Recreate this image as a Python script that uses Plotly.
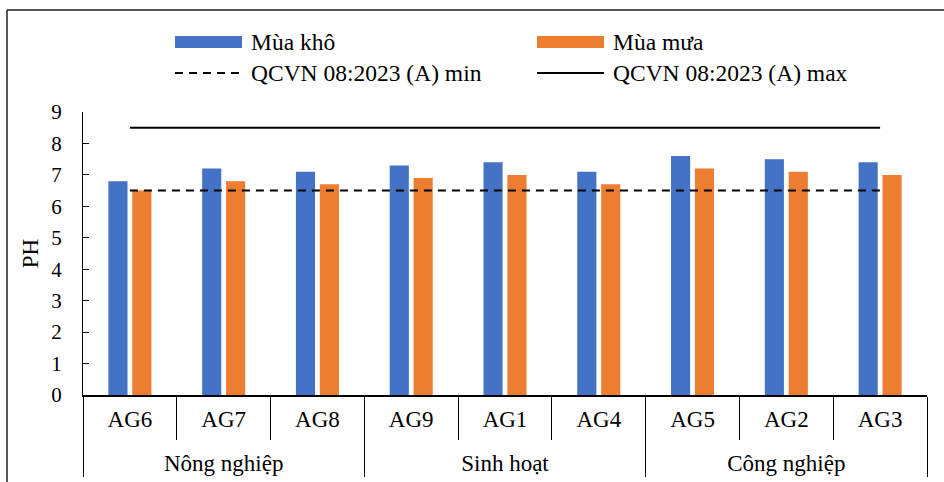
import plotly.graph_objects as go

groups = ["Nông nghiệp"] * 3 + ["Sinh hoạt"] * 3 + ["Công nghiệp"] * 3
sites = ["AG6", "AG7", "AG8", "AG9", "AG1", "AG4", "AG5", "AG2", "AG3"]
mua_kho = [6.8, 7.2, 7.1, 7.3, 7.4, 7.1, 7.6, 7.5, 7.4]
mua_mua = [6.5, 6.8, 6.7, 6.9, 7.0, 6.7, 7.2, 7.1, 7.0]
qcvn_min = [6.5] * 9
qcvn_max = [8.5] * 9
y_ticks = [0, 1, 2, 3, 4, 5, 6, 7, 8, 9]

FONT = "Liberation Serif"
BLUE = "#4472C4"
ORANGE = "#ED7D31"

# labels drawn at 23px inside a smaller base tick font (tighter line break for the group row)
def lab(t, br=False):
    return ("<br>" if br else "") + "<span style='font-size:23px'>" + t + "</span>"

x = [[lab(g, True) for g in groups], [lab(s) for s in sites]]

fig = go.Figure()
fig.add_trace(go.Bar(x=x, y=mua_kho, name="Mùa khô", marker=dict(color=BLUE, line=dict(width=0))))
fig.add_trace(go.Bar(x=x, y=mua_mua, name="Mùa mưa", marker=dict(color=ORANGE, line=dict(width=0))))
fig.add_trace(go.Scatter(x=x, y=qcvn_min, mode="lines", name="QCVN 08:2023 (A) min",
                         line=dict(color="black", width=2, dash="8px,6px")))
fig.add_trace(go.Scatter(x=x, y=qcvn_max, mode="lines", name="QCVN 08:2023 (A) max",
                         line=dict(color="black", width=2)))

W, H = 944, 482
L, R, T, B = 83, 17, 112, 87
pw, ph = W - L - R, H - T - B

def px2paper(px, py):
    return (px - L) / pw, (H - B - py) / ph

shapes = []
annotations = []
# chart-area frame (left and top edges)
x0, y0 = px2paper(7, 10)
_, yb = px2paper(7, 490)
x1, _ = px2paper(950, 10)
shapes.append(dict(type="line", xref="paper", yref="paper", x0=x0, y0=yb, x1=x0, y1=y0,
                   line=dict(color="#222", width=1.5)))
shapes.append(dict(type="line", xref="paper", yref="paper", x0=x0, y0=y0, x1=x1, y1=y0,
                   line=dict(color="#222", width=1.5)))

# custom legend
legend_items = [
    ("Mùa khô", "bar", BLUE, 175, 42),
    ("Mùa mưa", "bar", ORANGE, 537, 42),
    ("QCVN 08:2023 (A) min", "dash", "black", 175, 73),
    ("QCVN 08:2023 (A) max", "solid", "black", 537, 73),
]
for name, kind, col, lx, ly in legend_items:
    ax0, ay = px2paper(lx, ly)
    ax1, _ = px2paper(lx + 67, ly)
    if kind == "bar":
        _, ya = px2paper(lx, ly - 6)
        _, yb2 = px2paper(lx, ly + 6)
        shapes.append(dict(type="rect", xref="paper", yref="paper", x0=ax0, x1=ax1, y0=yb2, y1=ya,
                           fillcolor=col, line=dict(width=0)))
    else:
        shapes.append(dict(type="line", xref="paper", yref="paper", x0=ax0, x1=ax1, y0=ay, y1=ay,
                           line=dict(color=col, width=2, dash="8px,6px" if kind == "dash" else "solid")))
    tx, _ = px2paper(lx + 74, ly)
    annotations.append(dict(text=name, xref="paper", yref="paper", x=tx, y=ay, xanchor="left",
                            yanchor="middle", showarrow=False, font=dict(family=FONT, size=23.5, color="black")))

fig.update_layout(
    width=W, height=H,
    margin=dict(l=L, r=R, t=T, b=B, autoexpand=False),
    paper_bgcolor="white", plot_bgcolor="white",
    barmode="group", bargap=0.49, bargroupgap=0.2,
    showlegend=False,
    shapes=shapes, annotations=annotations,
    font=dict(family=FONT, size=23, color="black"),
)
fig.update_yaxes(range=[0, 9], tickvals=y_ticks, ticks="inside", ticklen=6, tickcolor="black",
                 showline=True, linecolor="black", linewidth=1, showgrid=False, zeroline=False,
                 ticklabelstandoff=16,
                 tickfont=dict(family=FONT, size=21, color="black"),
                 title=dict(text="PH", font=dict(family=FONT, size=23, color="black"), standoff=6))
fig.update_xaxes(type="multicategory", showline=True, linecolor="black", linewidth=1.5,
                 ticks="outside", tickson="boundaries", ticklen=43, tickcolor="black",
                 ticklabelstandoff=7,
                 showdividers=True, dividercolor="black", dividerwidth=1,
                 showgrid=False, tickfont=dict(family=FONT, size=19, color="black"))

fig.write_html("out.html")
